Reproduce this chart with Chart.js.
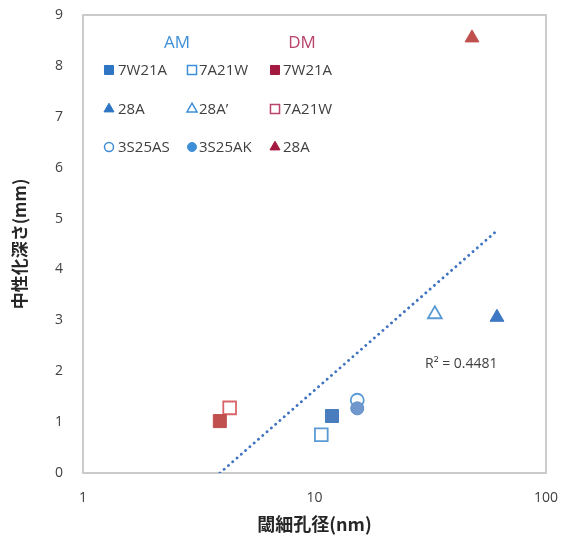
<!DOCTYPE html>
<html>
<head>
<meta charset="utf-8">
<script src="https://cdn.jsdelivr.net/npm/chart.js@4.4.1/dist/chart.umd.min.js"></script>
<style>
  html, body { margin: 0; padding: 0; background: #fff; }
  #wrap { width: 561px; height: 537px; }
</style>
</head>
<body>
<div id="wrap"><canvas id="myChart" width="561" height="537"></canvas></div>
<script>
// data
const seriesNames = ['AM 7W21A', 'AM 7A21W', 'AM 28A', "AM 28A'", 'AM 3S25AS', 'AM 3S25AK', 'DM 7W21A', 'DM 7A21W', 'DM 28A'];
const poreSize = [11.9, 10.7, 61.4, 33.1, 15.3, 15.3, 3.9, 4.3, 47.9];
const depth = [1.12, 0.75, 3.06, 3.12, 1.43, 1.27, 1.02, 1.28, 8.55];
const trendX = [3.9, 61];
const trendY = [0, 4.75];
const rSquared = 0.4481;
const xTicks = [1, 10, 100];
const yTicks = [0, 1, 2, 3, 4, 5, 6, 7, 8, 9];
const groupNames = ['AM', 'DM'];
const legendLabels = ['7W21A', '7A21W', '7W21A', '28A', '28A’', '7A21W', '3S25AS', '3S25AK', '28A'];

// marker looks, same order as seriesNames
const markerStyles = [
  { shape: 'rect', fill: '#4a7dbd', stroke: '#4a7dbd', r: 9.2, order: 0 },
  { shape: 'rect', fill: '#ffffff', stroke: '#5b9bd5', r: 9, order: 1 },
  { shape: 'triangle', fill: '#3e78c2', stroke: '#3e78c2', r: 8, order: 0 },
  { shape: 'triangle', fill: '#ffffff', stroke: '#5b9bd5', r: 8, order: 1 },
  { shape: 'circle', fill: '#ffffff', stroke: '#5b9bd5', r: 6.5, order: 1 },
  { shape: 'circle', fill: '#7098cc', stroke: '#628dc6', r: 6.5, order: 0 },
  { shape: 'rect', fill: '#c0504d', stroke: '#c0504d', r: 9.2, order: 0 },
  { shape: 'rect', fill: '#ffffff', stroke: '#d9656a', r: 9, order: 1 },
  { shape: 'triangle', fill: '#c0504d', stroke: '#c0504d', r: 8, order: 0 }
];
// legend grid: row-major, index into markerStyles
const legendOrder = [0, 1, 6, 2, 3, 7, 4, 5, 8];
const legendColors = ['#2e75c4', '#3e8ed8', '#a3193f', '#2e75c4', '#3e8ed8', '#b9436a', '#3e8ed8', '#3e8ed8', '#a3193f'];

const datasets = seriesNames.map((name, i) => {
  const s = markerStyles[i];
  return {
    label: name,
    data: [{ x: poreSize[i], y: depth[i] }],
    pointStyle: s.shape,
    pointRadius: s.r,
    pointHoverRadius: s.r,
    pointBackgroundColor: s.fill,
    pointBorderColor: s.stroke,
    pointBorderWidth: s.fill === '#ffffff' ? 1.8 : 1,
    showLine: false,
    order: s.order
  };
});
datasets.push({
  label: 'trend',
  data: trendX.map((x, i) => ({ x: x, y: trendY[i] })),
  showLine: true,
  borderColor: '#3f73bf',
  borderWidth: 2.8,
  borderDash: [0.1, 5.6],
  borderCapStyle: 'round',
  pointRadius: 0,
  order: 2
});

// no extra room for the end tick labels, the plot box is fixed by layout padding
const noPad = (s) => { s.paddingTop = 0; s.paddingBottom = 0; s.paddingLeft = 0; s.paddingRight = 0; };

const boxAndLegend = {
  id: 'boxAndLegend',
  beforeDatasetsDraw(chart) {
    const { ctx, chartArea: a } = chart;
    ctx.save();
    ctx.strokeStyle = '#bfbfbf';
    ctx.lineWidth = 1.6;
    ctx.strokeRect(a.left, a.top, a.right - a.left, a.bottom - a.top);
    ctx.restore();
  },
  afterDatasetsDraw(chart) {
    const ctx = chart.ctx;
    ctx.save();
    ctx.textBaseline = 'middle';
    // group headers
    ctx.font = '17px "Open Sans", sans-serif';
    ctx.textAlign = 'center';
    ctx.fillStyle = '#3e8ed8';
    ctx.fillText(groupNames[0], 177, 43);
    ctx.fillStyle = '#b9436a';
    ctx.fillText(groupNames[1], 302, 43);

    const colMarker = [109, 192, 275];
    const colText = [118, 199, 283];
    const rowY = [70, 109, 147];
    ctx.font = '15px "Open Sans", sans-serif';
    ctx.textAlign = 'left';
    legendOrder.forEach((si, k) => {
      const s = markerStyles[si];
      const col = k % 3, row = Math.floor(k / 3);
      const x = colMarker[col], y = rowY[row];
      const col2 = legendColors[k];
      ctx.fillStyle = s.fill === '#ffffff' ? '#ffffff' : col2;
      ctx.strokeStyle = col2;
      ctx.lineWidth = s.fill === '#ffffff' ? 1.5 : 1;
      const r = s.shape === 'rect' ? 6.4 : (s.shape === 'triangle' ? 5.8 : 4.5);
      Chart.helpers.drawPoint(ctx, { pointStyle: s.shape, radius: r, rotation: 0, borderWidth: ctx.lineWidth }, x, y);
      ctx.fillStyle = '#404040';
      ctx.fillText(legendLabels[k], colText[col], y + 1);
    });

    // R² label for the trend line
    ctx.font = '14px "Open Sans", sans-serif';
    ctx.fillStyle = '#404040';
    ctx.fillText('R² = ' + rSquared.toFixed(4), 425, 364);
    ctx.restore();
  }
};

new Chart(document.getElementById('myChart'), {
  type: 'scatter',
  data: { datasets: datasets },
  options: {
    responsive: false,
    animation: false,
    layout: { padding: { left: 0, right: 15, top: 15, bottom: 0 } },
    plugins: {
      legend: { display: false },
      tooltip: { enabled: false }
    },
    scales: {
      x: {
        type: 'logarithmic',
        min: 1,
        max: 100,
        afterBuildTicks: (s) => { s.ticks = xTicks.map(v => ({ value: v })); },
        afterFit: (s) => { s.height = 64; noPad(s); },
        grid: { display: false },
        border: { display: false },
        ticks: {
          color: '#404040',
          font: { size: 14, family: '"Open Sans", sans-serif' },
          padding: 9,
          callback: (v) => String(v)
        },
        title: {
          display: true,
          text: '閾細孔径(nm)',
          color: '#262626',
          font: { size: 18, weight: 'bold', family: '"Noto Sans CJK JP", sans-serif' },
          padding: { top: 2, bottom: 2 }
        }
      },
      y: {
        min: 0,
        max: 9,
        afterBuildTicks: (s) => { s.ticks = yTicks.map(v => ({ value: v })); },
        afterFit: (s) => { s.width = 83; noPad(s); },
        grid: { display: false },
        border: { display: false },
        ticks: {
          color: '#404040',
          font: { size: 14, family: '"Open Sans", sans-serif' },
          padding: 12
        },
        title: {
          display: true,
          text: '中性化深さ(mm)',
          color: '#262626',
          font: { size: 17, weight: 'bold', family: '"Noto Sans CJK JP", sans-serif' },
          padding: { top: 9, bottom: 0 }
        }
      }
    }
  },
  plugins: [boxAndLegend]
});
</script>
</body>
</html>
